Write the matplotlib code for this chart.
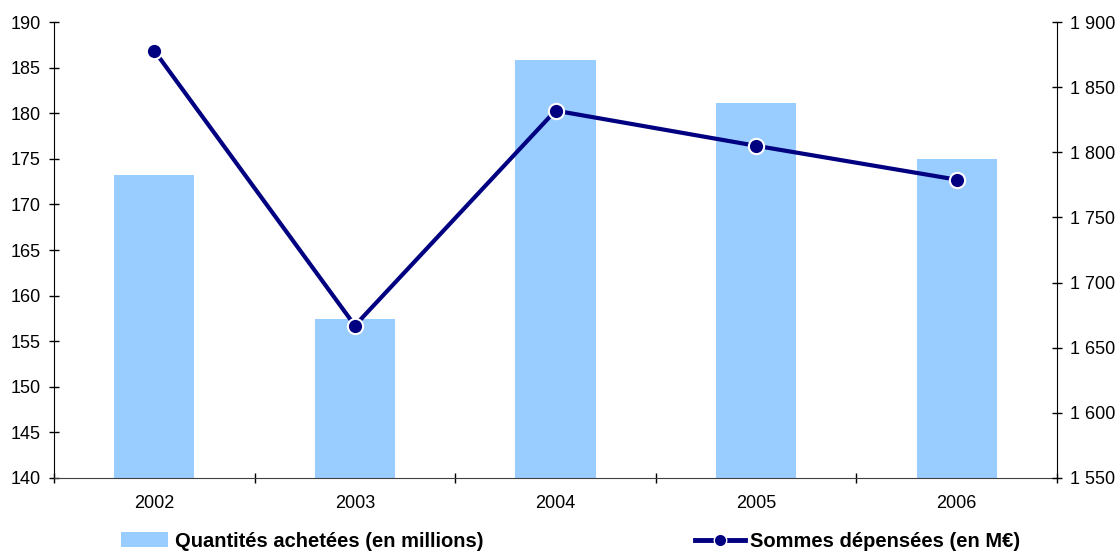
import matplotlib
matplotlib.use('Agg')
import matplotlib.pyplot as plt
from matplotlib.lines import Line2D
from matplotlib.patches import Patch
from matplotlib.ticker import FuncFormatter

plt.rcParams['font.family'] = ['Liberation Sans', 'DejaVu Sans']

years = ['2002', '2003', '2004', '2005', '2006']
quantites = [173.2, 157.4, 185.8, 181.1, 175.0]
sommes = [1878, 1667, 1832, 1805, 1779]

bar_color = '#99CCFF'
line_color = '#000080'

fig = plt.figure(figsize=(11.2, 5.51), dpi=100)
ax = fig.add_axes([0.0482, 0.1325, 0.8956, 0.8275])
x = range(len(years))

ax.bar(x, quantites, width=0.4, color=bar_color)
ax.set_ylim(140, 190)
ax.set_xlim(-0.5, len(years) - 0.5)
ax.set_yticks(range(140, 191, 5))
ax.set_xticks(list(x))
ax.set_xticklabels(years)
ax.set_xticks([i - 0.5 for i in range(len(years) + 1)], minor=True)
ax.tick_params(axis='x', which='major', length=0, pad=12, labelsize=13)
ax.tick_params(axis='x', which='minor', direction='inout', length=7, width=1)
ax.tick_params(axis='y', direction='inout', length=7, width=1, labelsize=13, pad=6)
ax.spines['top'].set_visible(False)
ax.spines['right'].set_visible(False)
ax.spines['bottom'].set_color('#404040')

ax2 = ax.twinx()
ax2.plot(x, sommes, color=line_color, lw=3, marker='o', ms=11,
         markerfacecolor=line_color, markeredgecolor='white', markeredgewidth=1.5)
ax2.set_ylim(1550, 1900)
ax2.set_yticks(range(1550, 1901, 50))
ax2.yaxis.set_major_formatter(FuncFormatter(lambda v, p: f'{int(v):,}'.replace(',', ' ')))
ax2.tick_params(axis='y', direction='inout', length=7, width=1, labelsize=13, pad=6)
ax2.spines['top'].set_visible(False)
ax2.spines['left'].set_visible(False)
ax2.spines['bottom'].set_visible(False)

h1 = Patch(facecolor=bar_color, edgecolor='none')
h2 = Line2D([0], [0], color=line_color, lw=3.5, marker='o', ms=9,
            markerfacecolor=line_color, markeredgecolor='white', markeredgewidth=1)
leg1 = fig.legend([h1], ['Quantités achetées (en millions)'], loc='center left',
                  bbox_to_anchor=(0.108, 0.018), frameon=False, borderpad=0,
                  borderaxespad=0, handlelength=2.34, handleheight=0.75,
                  handletextpad=0.35, prop={'weight': 'bold', 'size': 14.5})
leg2 = fig.legend([h2], ['Sommes dépensées (en M€)'], loc='center left',
                  bbox_to_anchor=(0.6205, 0.018), frameon=False, borderpad=0,
                  borderaxespad=0, handlelength=2.5, handletextpad=0.25, numpoints=1,
                  prop={'weight': 'bold', 'size': 14.5})

fig.savefig('out.png', dpi=100)
